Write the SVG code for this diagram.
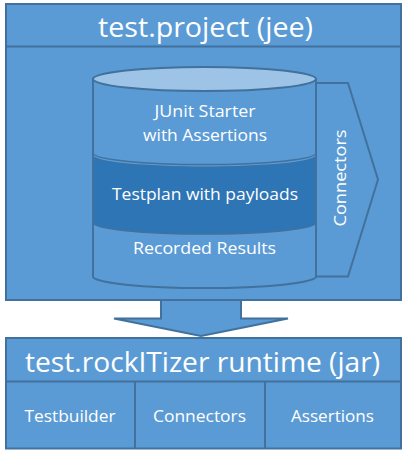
<svg xmlns="http://www.w3.org/2000/svg" width="414" height="461" viewBox="0 0 414 461">
<style>
.box{fill:#5B9BD5;stroke:#41719C;stroke-width:2}
.ln{fill:none;stroke:#41719C;stroke-width:2}
.t{font-family:"Open Sans","Noto Sans",sans-serif;fill:#fff;text-anchor:middle}
.big{font-size:27px}
.sm{font-size:17px}
</style>
<rect width="414" height="461" fill="#fff"/>
<g id="project">
<rect class="box" x="6" y="4" width="395" height="296"/>
<line class="ln" x1="6" y1="46.5" x2="401" y2="46.5"/>
<text class="t big" x="205.5" y="37" textLength="215" lengthAdjust="spacingAndGlyphs">test.project (jee)</text>
</g>
<g id="connectors-chevron">
<polygon class="box" points="300,83 348,83 378,179.5 348,276.5 300,276.5"/>
<text class="t sm" transform="translate(346,178) rotate(-90)" x="0" y="0" textLength="97" lengthAdjust="spacingAndGlyphs">Connectors</text>
</g>
<g id="cylinder">
<path class="box" d="M93,79 L93,276.5 A111.5,11.5 0 0,0 316,276.5 L316,79 Z"/>
<path d="M93,155 A111.5,11.5 0 0,0 316,155 L316,222.5 A111.5,11.5 0 0,1 93,222.5 Z" fill="#2E75B6"/>
<path d="M93,153 A111.5,11.5 0 0,0 316,153" fill="none" stroke="#41719C" stroke-width="1.5"/>
<path d="M93,156 A111.5,11.5 0 0,0 316,156" fill="none" stroke="#41719C" stroke-width="1" opacity="0.6"/>
<path d="M93,222.5 A111.5,11.5 0 0,0 316,222.5" fill="none" stroke="#41719C" stroke-width="1.5"/>
<line class="ln" x1="93" y1="79" x2="93" y2="276.5"/>
<line class="ln" x1="316" y1="79" x2="316" y2="276.5"/>
<ellipse cx="204.5" cy="79" rx="111.5" ry="12" fill="#9DC3E6" stroke="#41719C" stroke-width="2"/>
<text class="t sm" x="205" y="117" textLength="101" lengthAdjust="spacingAndGlyphs">JUnit Starter</text>
<text class="t sm" x="205" y="141" textLength="124" lengthAdjust="spacingAndGlyphs">with Assertions</text>
<text class="t sm" x="205" y="200" textLength="186" lengthAdjust="spacingAndGlyphs">Testplan with payloads</text>
<text class="t sm" x="204.5" y="254" textLength="143" lengthAdjust="spacingAndGlyphs">Recorded Results</text>
</g>
<g id="connectors">
<polygon class="box" points="161,300 241,300 241,318.5 288,318.5 201,336 114,318.5 161,318.5"/>
</g>
<g id="runtime">
<rect class="box" x="6" y="338" width="395" height="110.5"/>
<line class="ln" x1="6" y1="381.5" x2="401" y2="381.5"/>
<line class="ln" x1="135" y1="381.5" x2="135" y2="448.5"/>
<line class="ln" x1="265" y1="381.5" x2="265" y2="448.5"/>
<text class="t big" x="202.5" y="372" textLength="355" lengthAdjust="spacingAndGlyphs">test.rockITizer runtime (jar)</text>
<text class="t sm" x="70" y="421.5" textLength="91" lengthAdjust="spacingAndGlyphs">Testbuilder</text>
<text class="t sm" x="199.5" y="421.5" textLength="93" lengthAdjust="spacingAndGlyphs">Connectors</text>
<text class="t sm" x="332.5" y="421.5" textLength="83" lengthAdjust="spacingAndGlyphs">Assertions</text>
</g>
</svg>
